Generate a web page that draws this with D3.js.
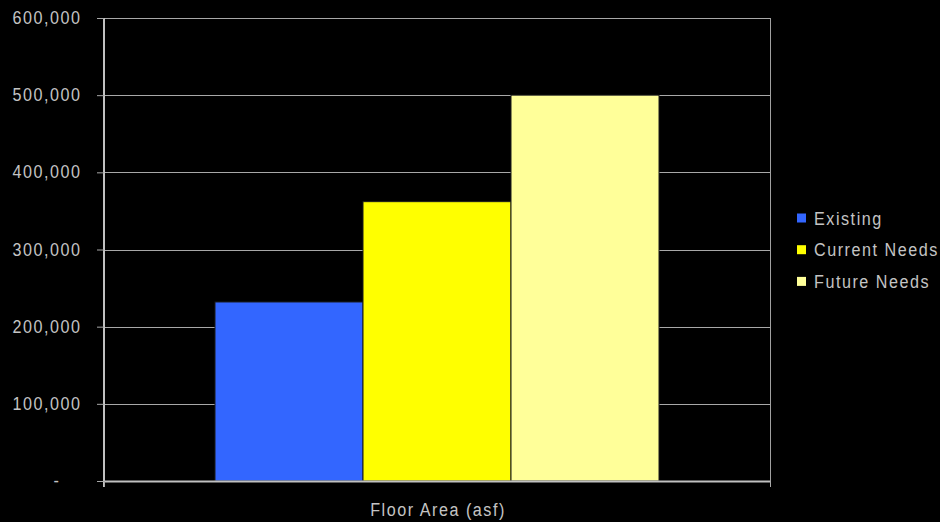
<!DOCTYPE html>
<html><head><meta charset="utf-8">
<script src="https://cdn.jsdelivr.net/npm/d3@7"></script>
<style>
html,body{margin:0;padding:0;background:#000;}
svg{display:block;}
text{font-family:"Liberation Sans",Arial,sans-serif;fill:#c4c4c4;font-size:19px;letter-spacing:1.8px;}
</style></head>
<body>
<svg id="chart" width="940" height="522"></svg>
<script>
const categories = ["Floor Area (asf)"];
const seriesNames = ["Existing", "Current Needs", "Future Needs"];
const seriesValues = [232000, 362000, 500000];
const seriesColors = ["#3366ff", "#ffff00", "#ffff99"];
const yTicks = [0, 100000, 200000, 300000, 400000, 500000, 600000];
const yTickLabels = ["-", "100,000", "200,000", "300,000", "400,000", "500,000", "600,000"];

(function () {
const svg = d3.select("#chart");
const pLeft = 104, pRight = 770, pTop = 18, pBottom = 481;
const SX = 0.85; // horizontal glyph compression seen in the reference

function label(sel, x, y, txt, anchor) {
  return sel.append("text")
    .attr("transform", `translate(${x},${y}) scale(${SX},1)`)
    .attr("text-anchor", anchor || "start")
    .text(txt);
}

const y = d3.scaleLinear().domain([0, 600000]).range([pBottom, pTop]);
const x0 = d3.scaleBand().domain(categories).range([pLeft, pRight]).paddingOuter(0.25).paddingInner(0);
const x1 = d3.scaleBand().domain(seriesNames).range([0, x0.bandwidth()]).padding(0);

// gridlines
svg.append("g").selectAll("line").data(yTicks.slice(1)).join("line")
  .attr("x1", pLeft).attr("x2", pRight)
  .attr("y1", d => Math.round(y(d)) + 0.5).attr("y2", d => Math.round(y(d)) + 0.5)
  .attr("stroke", "#a8a8a8").attr("stroke-width", 1);

// right border
svg.append("line").attr("x1", pRight + 0.5).attr("x2", pRight + 0.5)
  .attr("y1", pTop).attr("y2", pBottom + 6).attr("stroke", "#a0a0a0");

// bars
const g = svg.append("g").attr("transform", `translate(${x0(categories[0])},0)`);
g.selectAll("rect").data(seriesNames.map((n, i) => ({n, v: seriesValues[i], c: seriesColors[i]}))).join("rect")
  .attr("x", d => x1(d.n)).attr("width", x1.bandwidth())
  .attr("y", d => y(d.v)).attr("height", d => y(0) - y(d.v))
  .attr("fill", d => d.c).attr("stroke", "#1a1a1a").attr("stroke-width", 1);

// y axis (line + ticks via d3 axis, labels drawn separately)
const yAxis = d3.axisLeft(y).tickValues(yTicks).tickSize(7).tickFormat("");
const ya = svg.append("g").attr("transform", `translate(${pLeft},0)`).call(yAxis);
ya.select(".domain").attr("stroke", "#c0c0c0").attr("stroke-width", 2).attr("d", `M0,${pTop}V${pBottom + 6}`);
ya.selectAll(".tick line").attr("stroke", "#a8a8a8");
const yl = svg.append("g");
yTicks.forEach((v, i) => {
  if (v === 0) label(yl, pLeft - 47, y(v) + 6, yTickLabels[i], "middle");
  else label(yl, pLeft - 22.5, y(v) + 6, yTickLabels[i], "end");
});

// x axis
const xa = svg.append("g").attr("transform", `translate(0,${pBottom})`);
xa.append("line").attr("x1", pLeft).attr("x2", pRight).attr("y1", 0.5).attr("y2", 0.5)
  .attr("stroke", "#c0c0c0").attr("stroke-width", 2);
xa.selectAll(".xt").data([pLeft, pRight]).join("line").attr("class", "xt")
  .attr("x1", d => d + 0.5).attr("x2", d => d + 0.5).attr("y1", 0).attr("y2", 6)
  .attr("stroke", "#a8a8a8");
categories.forEach(c => label(svg, x0(c) + x0.bandwidth() / 2 + 1, pBottom + 35, c, "middle"));

// legend
const lg = svg.append("g");
seriesNames.forEach((n, i) => {
  const yy = 213.5 + i * 31.7;
  lg.append("rect").attr("x", 797).attr("y", yy).attr("width", 9).attr("height", 9)
    .attr("fill", seriesColors[i]);
  label(lg, 814, yy + 11, n, "start");
});
})();
</script>
</body></html>
